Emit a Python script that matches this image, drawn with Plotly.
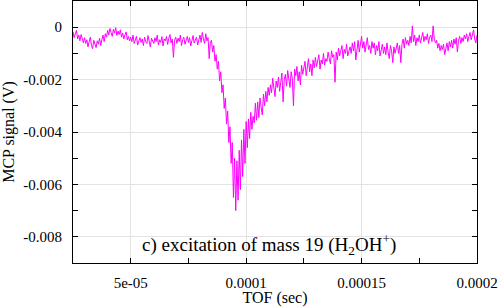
import numpy as np
import plotly.graph_objects as go

signal_mV = [
    -0.18, -0.40, -0.25, -0.12, -0.45, -0.30, -0.52, -0.28, -0.42, -0.60,
    -0.40, -0.62, -0.48, -0.75, -0.55, -0.38, -0.70, -0.82, -0.50, -0.66,
    -0.78, -0.52, -0.65, -0.42, -0.70, -0.48, -0.30, -0.55, -0.25, -0.38,
    -0.12, -0.30, -0.05, -0.20, -0.35, -0.08, -0.22, -0.02, -0.32, -0.15,
    -0.28, -0.10, -0.38, -0.22, -0.45, -0.30, -0.18, -0.48, -0.35, -0.52,
    -0.38, -0.55, -0.30, -0.62, -0.45, -0.35, -0.68, -0.50, -0.40, -0.58,
    -0.45, -0.70, -0.38, -0.55, -0.62, -0.32, -0.58, -0.75, -0.42, -0.50,
    -0.62, -0.40, -0.55, -0.30, -0.68, -0.48, -0.58, -0.36, -0.72, -0.45,
    -0.52, -0.35, -0.66, -0.42, -0.28, -0.60, -0.45, -1.15, -0.50, -0.38,
    -0.62, -0.42, -0.55, -0.30, -0.70, -0.48, -0.38, -0.65, -0.52, -0.35,
    -0.58, -0.40, -0.72, -0.45, -0.32, -0.60, -0.50, -0.38, -0.68, -0.42,
    -0.30, -0.58, -0.20, -0.45, -0.62, -0.25, -0.52, -0.40, -1.20, -0.55,
    -0.50, -0.95, -0.70, -1.30, -1.05, -1.60, -1.30, -2.05, -1.70, -2.50,
    -2.20, -3.10, -2.70, -3.70, -3.20, -4.40, -3.80, -5.20, -4.40, -6.50,
    -5.00, -7.00, -5.10, -6.60, -4.70, -6.20, -4.30, -5.70, -3.90, -5.20,
    -3.60, -4.60, -3.50, -4.25, -3.25, -3.90, -3.40, -3.65, -2.90, -3.55,
    -2.85, -3.45, -2.70, -3.05, -3.35, -2.55, -3.00, -2.45, -2.85, -2.30,
    -2.60, -2.20, -2.50, -1.95, -2.40, -2.65, -2.05, -2.30, -1.90, -2.45,
    -2.10, -1.75, -2.85, -2.00, -1.80, -2.25, -1.65, -2.05, -2.30, -1.70,
    -1.95, -3.00, -1.60, -1.85, -1.50, -2.05, -1.70, -2.20, -1.45, -1.80,
    -1.55, -1.30, -1.85, -1.45, -1.20, -1.70, -1.40, -1.85, -1.25, -1.55,
    -1.15, -1.50, -1.30, -1.05, -1.60, -1.25, -1.40, -1.00, -1.45, -1.20,
    -1.30, -0.95, -1.20, -1.40, -0.90, -1.15, -1.05, -2.10, -0.95, -1.25,
    -0.80, -1.10, -0.90, -0.70, -1.20, -0.85, -1.00, -0.65, -1.10, -0.90,
    -0.75, -1.00, -0.60, -0.90, -0.55, -1.25, -0.80, -0.50, -0.95, -0.65,
    -0.35, -0.80, -0.55, -0.95, -0.60, -0.40, -0.85, -0.70, -1.00, -0.55,
    -0.80, -0.60, -1.05, -0.70, -0.90, -0.55, -1.10, -0.80, -0.65, -1.00,
    -0.75, -1.05, -0.60, -0.95, -1.20, -0.70, -0.90, -1.35, -0.75, -1.00,
    -0.85, -0.60, -1.00, -0.70, -1.35, -0.65, -0.45, -0.80, -0.40, -0.65,
    -0.50, -0.70, -0.35, -0.60, 0.05, -0.55, -0.30, -0.70, -0.40, -0.55,
    -0.30, -0.60, -0.40, -0.20, -0.55, -0.35, -0.48, -0.25, -0.62, -0.38,
    -0.30, -0.55, 0.05, -0.45, -0.60, -0.50, -0.80, -0.62, -0.90, -0.70,
    -0.85, -0.65, -1.05, -0.75, -0.60, -0.90, -0.55, -0.75, -0.50, -0.80,
    -0.45, -0.65, -0.40, -0.95, -0.50, -0.35, -0.62, -0.40, -0.55, -0.30,
    -0.45, -0.25, -0.55, -0.35, -0.20, -0.48, -0.30, -0.10, -0.45, -0.60,
    -0.30,
]
tof_start_us = 25.0
tof_step_us = 0.5
tof_us = tof_start_us + tof_step_us * np.arange(len(signal_mV))

x_tickvals = [5e-05, 0.0001, 0.00015, 0.0002]
x_ticktext = ["5e-05", "0.0001", "0.00015", "0.0002"]
y_tickvals = [0, -0.002, -0.004, -0.006, -0.008]
y_ticktext = ["0", "-0.002", "-0.004", "-0.006", "-0.008"]

tof_sec = tof_us * 1e-6
signal_V = np.array(signal_mV) * 1e-3

font_family = "Liberation Serif, Times New Roman, serif"

fig = go.Figure()
fig.add_trace(go.Scatter(
    x=tof_sec, y=signal_V, mode="lines",
    line=dict(color="#ff00ff", width=1),
    showlegend=False, hoverinfo="skip",
))

# white opaque key box behind the label (hides gridlines)
fig.add_shape(type="rect", xref="x domain", yref="y domain",
              x0=0.136, x1=0.83, y0=0.0, y1=0.183,
              fillcolor="white", line=dict(width=0), layer="below")

fig.add_annotation(
    xref="x domain", yref="y domain", x=0.486, y=0.069,
    text="c) excitation of mass 19 (H<sub>2</sub>OH<sup>+</sup>)",
    showarrow=False, font=dict(family=font_family, size=19, color="black"),
    xanchor="center", yanchor="middle",
)

axis_common = dict(
    showline=True, linecolor="black", linewidth=1, mirror="ticks",
    ticks="inside", ticklen=5, tickcolor="black", tickwidth=1,
    showgrid=True, gridcolor="#e3e3e3", gridwidth=1, zeroline=False,
    tickfont=dict(family=font_family, size=15, color="black"),
)

fig.update_xaxes(
    **axis_common,
    range=[2.5e-05, 0.0002], tickmode="array",
    tickvals=x_tickvals, ticktext=x_ticktext,
    minor=dict(dtick=2.5e-05, tick0=0, ticks="inside", ticklen=5,
               tickcolor="black", showgrid=False),
    title=dict(text="TOF (sec)", font=dict(family=font_family, size=16, color="black"),
               standoff=4),
    ticklabelstandoff=6,
)
fig.update_yaxes(
    **axis_common,
    range=[-0.009, 0.001], tickmode="array",
    tickvals=y_tickvals, ticktext=y_ticktext,
    minor=dict(dtick=0.001, tick0=0, ticks="inside", ticklen=5,
               tickcolor="black", showgrid=False),
    title=dict(text="MCP signal (V)", font=dict(family=font_family, size=16, color="black"),
               standoff=5),
    ticklabelstandoff=7,
)

fig.update_layout(
    width=500, height=307,
    margin=dict(l=73, r=23, t=1, b=44),
    plot_bgcolor="white", paper_bgcolor="white",
)

fig.write_html("out.html", config={"displayModeBar": False},
               post_script="document.body.style.margin='0';document.body.style.padding='0';")
